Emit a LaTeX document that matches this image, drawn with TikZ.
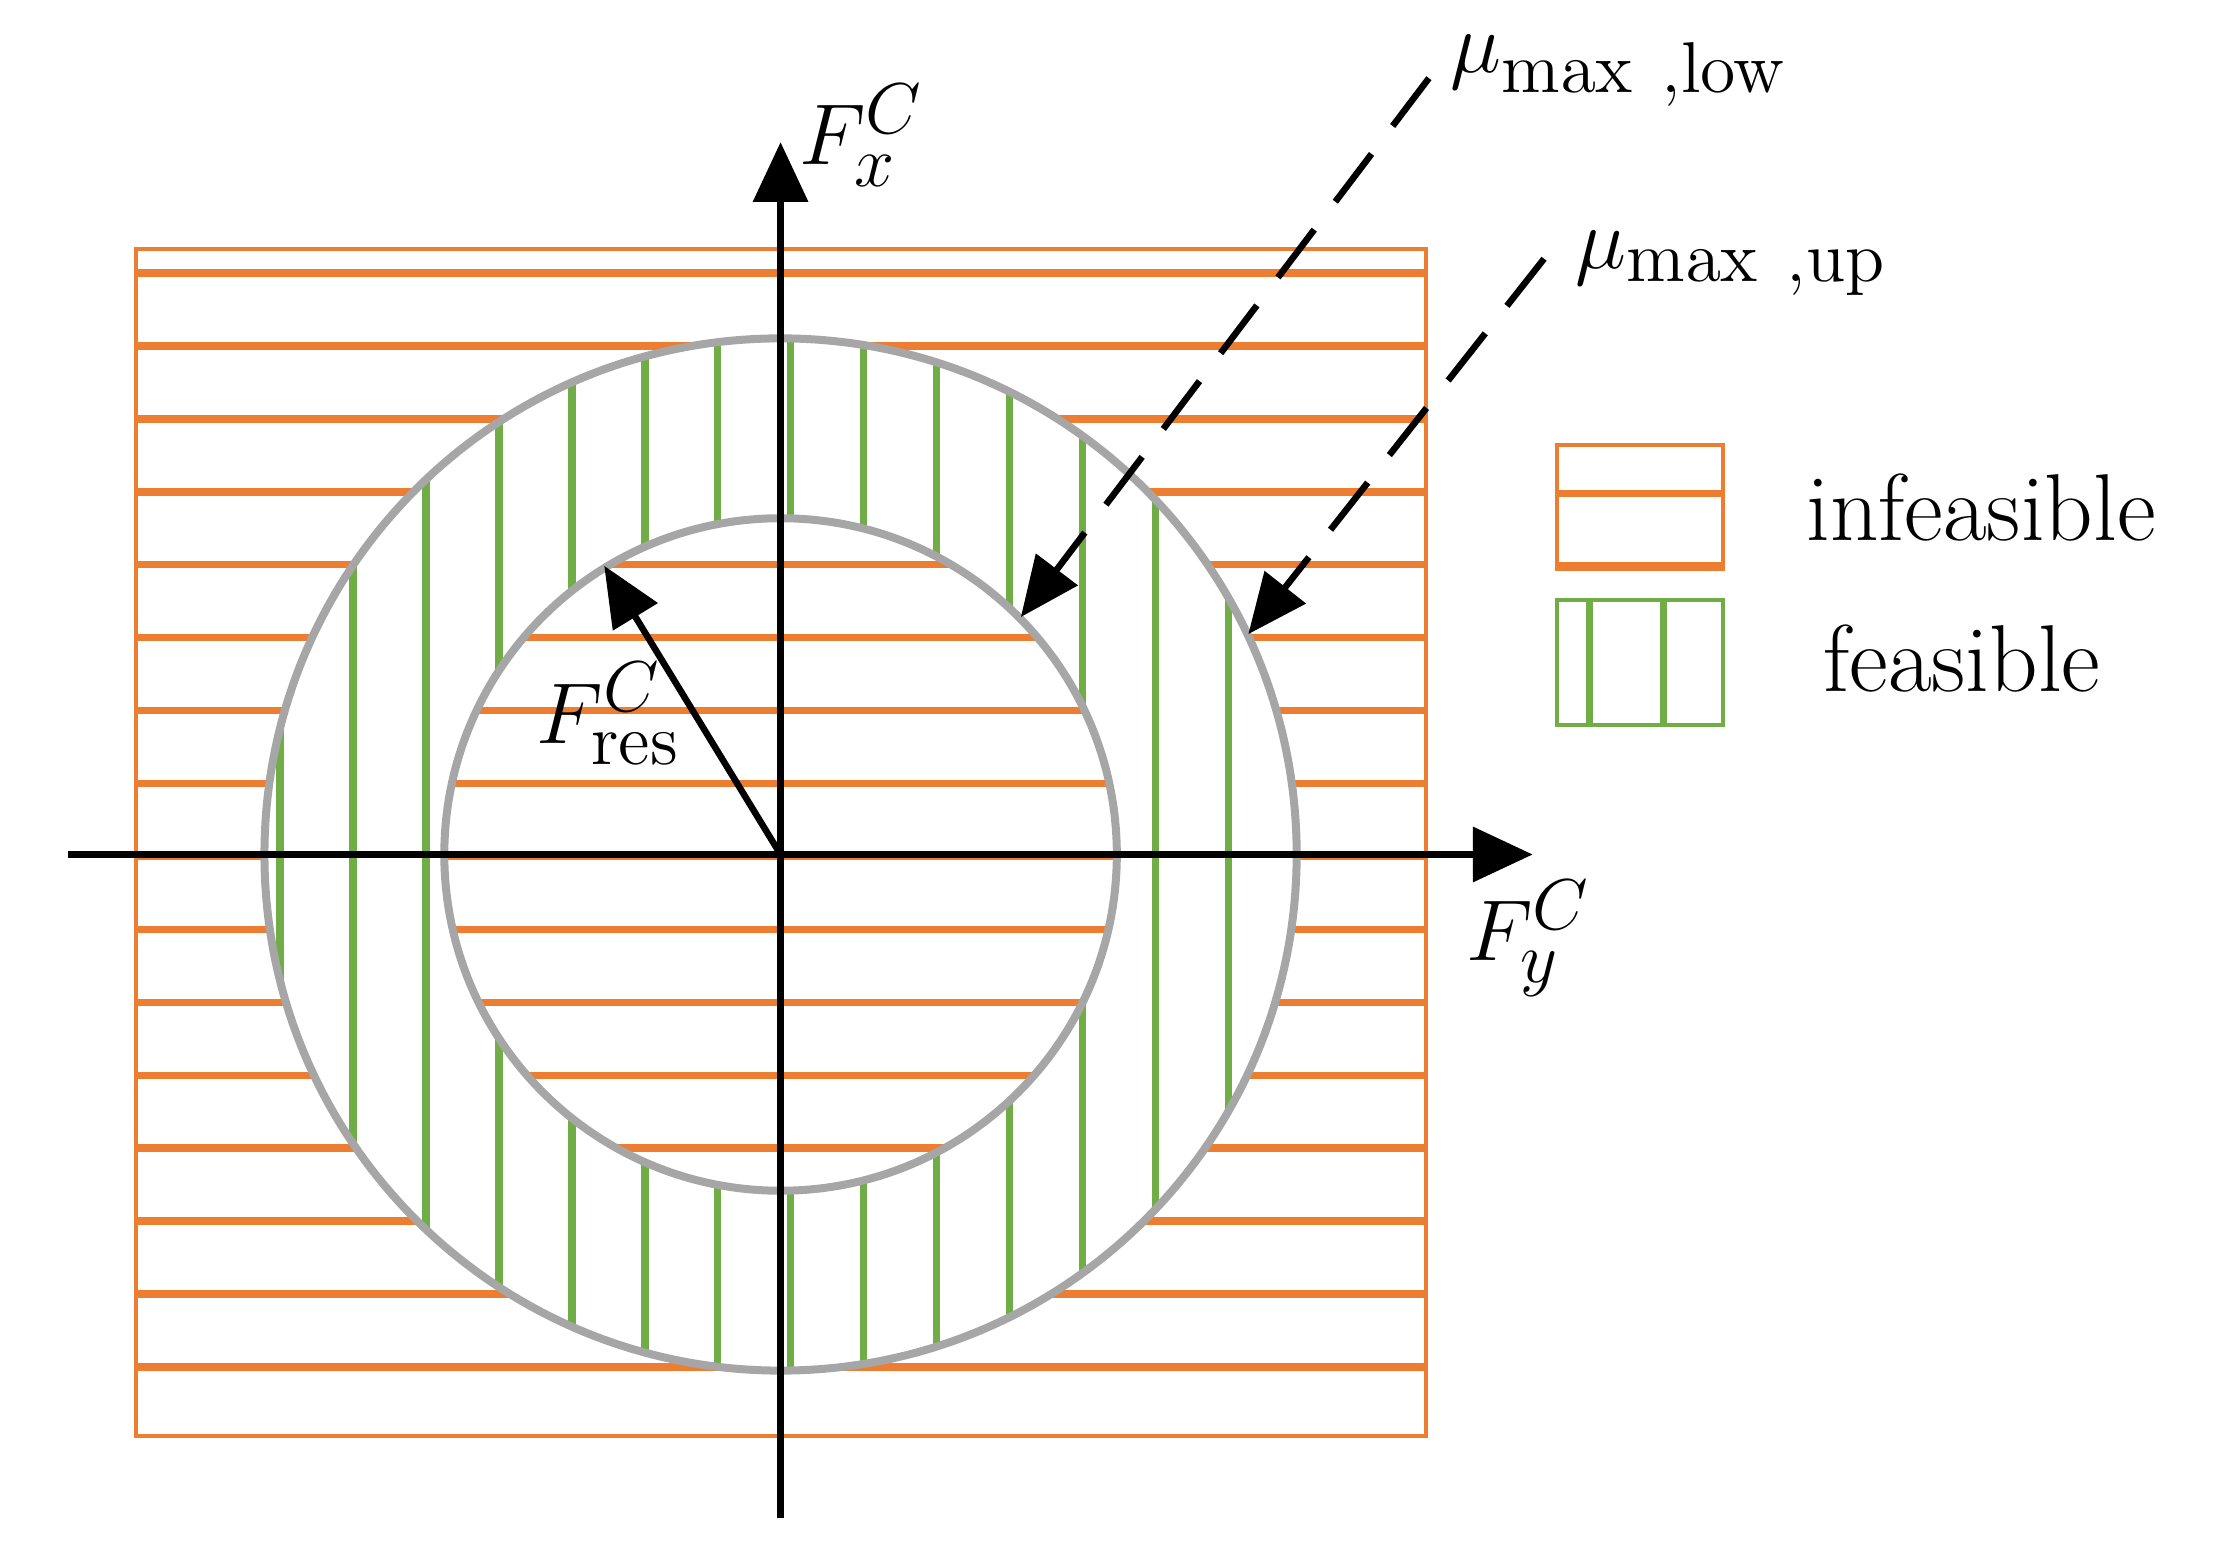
\documentclass[tikz,border=0pt]{standalone}
\usetikzlibrary{arrows.meta}
\begin{document}
\begin{tikzpicture}[x=0.01cm,y=-0.01cm,
  orl/.style={draw={rgb,255:red,237;green,125;blue,49},line width=1.5pt},
  grl/.style={draw={rgb,255:red,112;green,173;blue,71},line width=1.5pt},
  circ/.style={draw={rgb,255:red,166;green,166;blue,166},line width=1.6pt},
  axis/.style={line width=1.3pt,-{Triangle[length=0.42cm,width=0.38cm]}},
  lbl/.style={font=\fontsize{19}{22}\selectfont}]
\useasboundingbox (0,0) rectangle (1560,1089);
\coordinate (O) at (549,601);
% orange region
\draw[draw={rgb,255:red,237;green,125;blue,49},line width=0.8pt] (96,175) rectangle (1003,1010);
\foreach \y in {192,243.3,...,965}{\draw[orl] (96,\y) -- (1003,\y);}
% annulus white
\fill[white,even odd rule] (O) circle (363) (O) circle (236.5);
\begin{scope}[even odd rule]
\clip (O) circle (363) (O) circle (236.5);
\foreach \x in {197,248.3,...,870}{\draw[grl] (\x,200) -- (\x,1000);}
\end{scope}
\draw[circ] (O) circle (363);
\draw[circ] (O) circle (236.5);
% axes
\coordinate (xl) at (48,601); \coordinate (xr) at (1078,601);
\coordinate (yb) at (549,1068); \coordinate (yt) at (549,100);
\draw[axis] (xl) -- (xr);
\draw[axis] (yb) -- (yt);
\node[lbl] (fx) at (606,95) {$F_x^C$};
\node[lbl] (fy) at (1075,660) {$F_y^C$};
\coordinate (rt) at (425,398);
\draw[line width=1.3pt,-{Triangle[length=0.42cm,width=0.36cm]}] (O) -- (rt);
\node[lbl] (fr) at (428,502) {$F_{\mathrm{res}}^C$};
% dashed
\coordinate (d1s) at (1005,55); \coordinate (d1e) at (718,434);
\coordinate (d2s) at (1086,182); \coordinate (d2e) at (878,446);
\draw[line width=1.3pt,dash pattern=on 12pt off 7pt,-{Triangle[length=0.42cm,width=0.36cm]}] (d1s) -- (d1e);
\draw[line width=1.3pt,dash pattern=on 12pt off 7pt,-{Triangle[length=0.42cm,width=0.36cm]}] (d2s) -- (d2e);
\node[lbl,anchor=west] (m1) at (1008,50) {$\mu_{\mathrm{max\ ,low}}$};
\node[lbl,anchor=west] (m2) at (1096,185) {$\mu_{\mathrm{max\ ,up}}$};
% legend
\draw[draw={rgb,255:red,237;green,125;blue,49},line width=0.8pt] (1095,313) rectangle (1212,400);
\draw[orl] (1095,347) -- (1212,347);
\draw[orl] (1095,398) -- (1212,398);
\draw[draw={rgb,255:red,112;green,173;blue,71},line width=0.8pt] (1095,422) rectangle (1212,510);
\draw[grl] (1118,422) -- (1118,510);
\draw[grl] (1170,422) -- (1170,510);
\node[lbl,anchor=west] (inf) at (1258,357) {infeasible};
\node[lbl,anchor=west] (fea) at (1270,463) {feasible};
\end{tikzpicture}
\end{document}
